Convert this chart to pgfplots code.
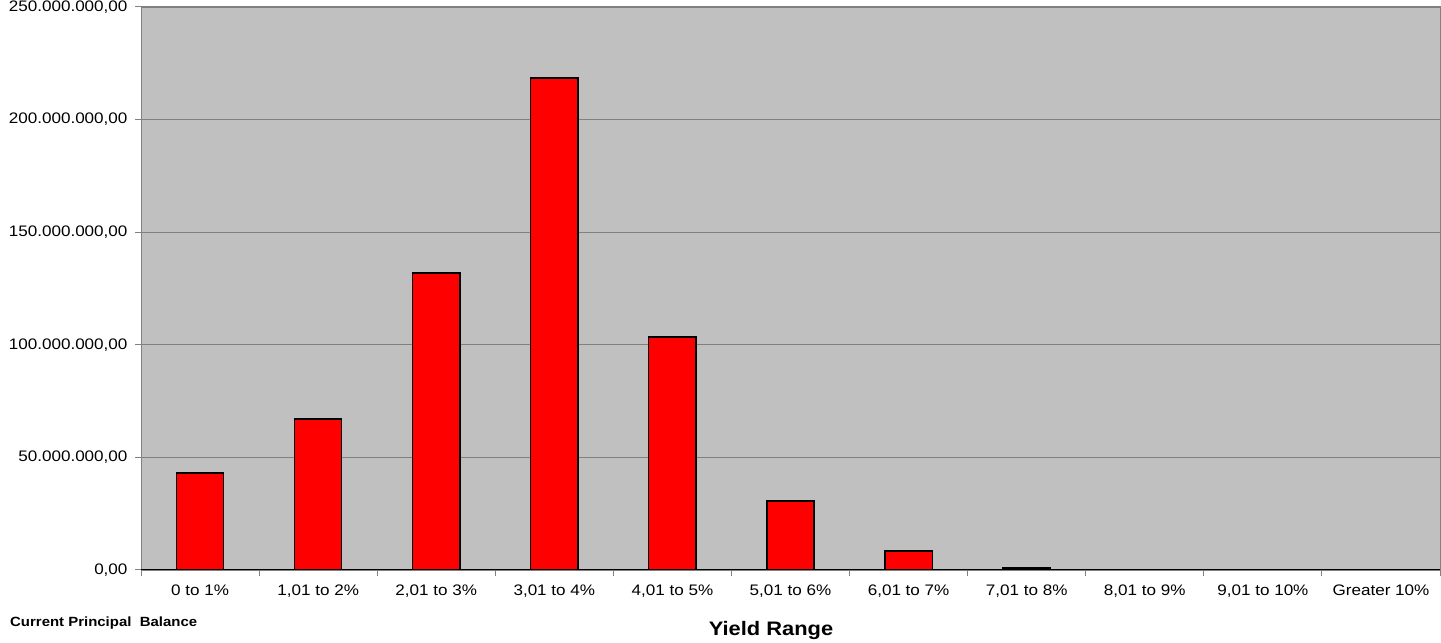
\documentclass[border=0pt]{standalone}
\usepackage{pgfplots}
\pgfplotsset{compat=1.18}
\usepackage{fontspec}
\setmainfont{Liberation Sans}[FakeStretch=1.12]

\definecolor{plotbg}{HTML}{C0C0C0}
\definecolor{gridgray}{HTML}{808080}
\definecolor{barred}{HTML}{FF0000}

\begin{document}
\begin{tikzpicture}[x=1bp,y=1bp]
\useasboundingbox (0,0) rectangle (1441,643);
\begin{axis}[
  at={(141bp,73bp)}, anchor=south west,
  scale only axis, width=1299bp, height=563bp,
  xmin=-0.5, xmax=10.5, ymin=0, ymax=250000000,
  axis background/.style={fill=plotbg},
  axis line style={gridgray, line width=1bp},
  ymajorgrids,
  major grid style={gridgray, line width=0.9bp},
  tick pos=left, tick align=outside,
  ytick={0,50000000,100000000,150000000,200000000,250000000},
  scaled y ticks=false,
  /pgf/number format/assume math mode=true,
  yticklabel={\pgfmathprintnumber[fixed,fixed zerofill,precision=2,use comma,1000 sep={.}]{\tick}},
  major tick length=6bp, minor tick length=6bp,
  y tick style={gridgray, line width=1bp},
  xtick={0,1,...,10},
  xticklabels={0 to 1\%,{1,01 to 2\%},{2,01 to 3\%},{3,01 to 4\%},{4,01 to 5\%},{5,01 to 6\%},{6,01 to 7\%},{7,01 to 8\%},{8,01 to 9\%},{9,01 to 10\%},Greater 10\%},
  major x tick style={draw=none},
  minor xtick={-0.5,0.5,...,10.5},
  minor x tick style={gridgray, line width=1bp},
  ticklabel style={font=\fontsize{15.3}{18}\selectfont, text=black},
  xticklabel style={yshift=-5.5bp},
  yticklabel style={xshift=-4bp},
  ybar, bar width=0.4,
]
\addplot[fill=barred, draw=black, line width=1.3bp] coordinates {
  (0,43100000) (1,67000000) (2,131900000) (3,218500000) (4,103500000)
  (5,30600000) (6,8400000) (7,900000) (8,250000) (9,250000) (10,0)
};
\draw[black, line width=1.3bp] (axis cs:-0.5,0) -- (axis cs:10.5,0);
\end{axis}
\node[anchor=west, font=\bfseries\fontsize{13.4}{15}\selectfont, inner sep=0pt] at (10,20) {Current Principal\ \ Balance};
\node[font=\bfseries\fontsize{19.6}{22}\selectfont, inner sep=0pt] at (771,13) {Yield Range};
\end{tikzpicture}
\end{document}
